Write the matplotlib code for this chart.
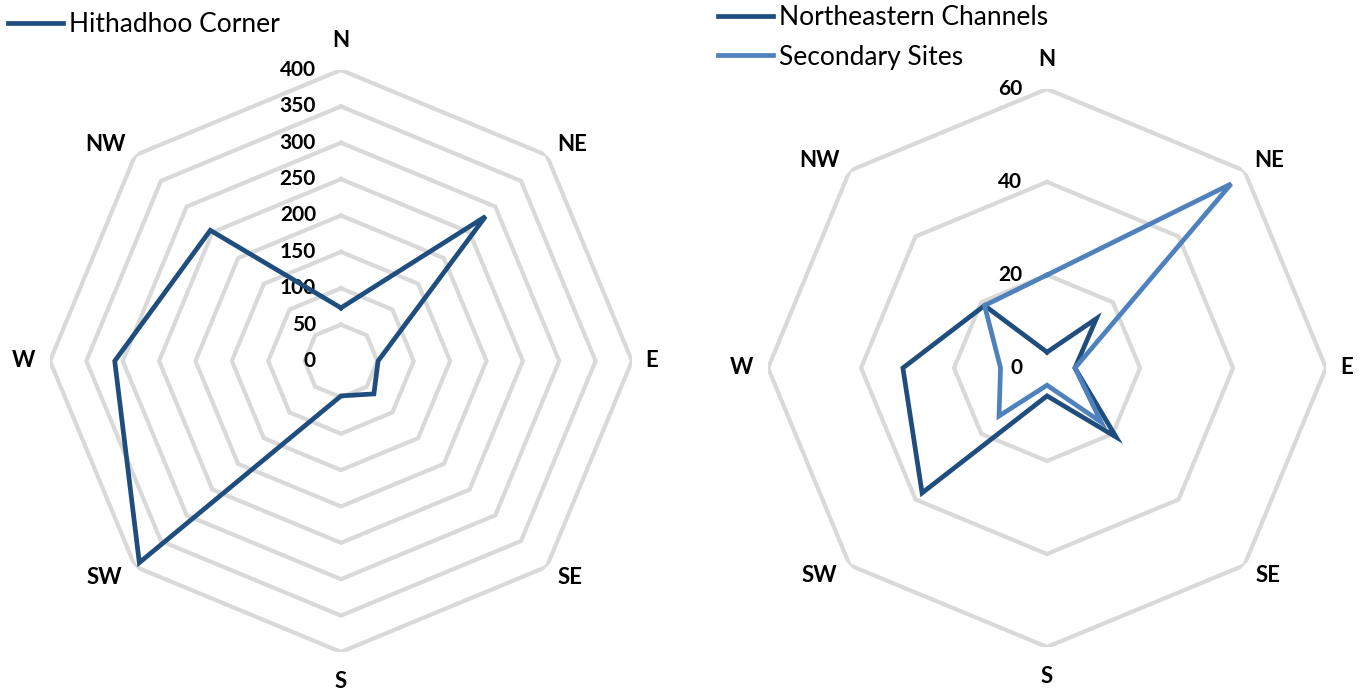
import numpy as np
import matplotlib.pyplot as plt

plt.rcParams['font.family'] = ['Lato', 'DejaVu Sans']

directions = ['N', 'NE', 'E', 'SE', 'S', 'SW', 'W', 'NW']

# left chart
hithadhoo = [73, 281, 51, 64, 48, 392, 311, 254]
left_ticks = [0, 50, 100, 150, 200, 250, 300, 350, 400]

# right chart
northeastern = [3.4, 15, 6, 21, 6, 38, 31, 19]
secondary = [20, 56, 6, 16.5, 3.7, 14.6, 10, 19]
right_ticks = [0, 20, 40, 60]

dark = '#1f4e7e'
light = '#4f81bd'
grid_col = '#d9d9d9'

# label offsets (points) from the outer vertex, Excel-like placement
label_off = {'N': (0, 21), 'NE': (18, 7.5), 'E': (14.5, 0), 'SE': (17, -7.5),
             'S': (0, -21), 'SW': (-22, -7.5), 'W': (-19, 0), 'NW': (-21.5, 7.5)}

fig = plt.figure(figsize=(13.62, 6.93), dpi=100)

angles = np.arange(len(directions)) * 2 * np.pi / len(directions)
closed = np.append(angles, angles[0])


def radar(ax, ticks, series):
    rmax = ticks[-1]
    ax.set_theta_zero_location('N')
    ax.set_theta_direction(-1)
    ax.set_ylim(0, rmax)
    ax.grid(False)
    ax.spines['polar'].set_visible(False)
    ax.set_xticks([])
    ax.set_yticks([])
    for t in ticks[1:]:
        ax.plot(closed, [t] * len(closed), color=grid_col, lw=3.0, zorder=1,
                solid_joinstyle='miter')
    for t in ticks:
        ax.annotate(str(t), xy=(0, t), xytext=(-18, 0), textcoords='offset points',
                    ha='right', va='center', fontsize=15, fontweight='bold')
    for ang, d in zip(angles, directions):
        ax.annotate(d, xy=(ang, rmax), xytext=label_off[d], textcoords='offset points',
                    ha='center', va='center', fontsize=16, fontweight='bold')
    handles = []
    for vals, col, name in series:
        h, = ax.plot(closed, np.append(vals, vals[0]), color=col, lw=3.4,
                     zorder=3, label=name, solid_joinstyle='miter')
        handles.append(h)
    return handles


ax1 = fig.add_axes([0.0367, 0.0592, 0.4273, 0.8398], projection='polar')
h1 = radar(ax1, left_ticks, [(hithadhoo, dark, 'Hithadhoo Corner')])

ax2 = fig.add_axes([0.5639, 0.0664, 0.4097, 0.8052], projection='polar')
h2 = radar(ax2, right_ticks, [(northeastern, dark, 'Northeastern Channels'),
                              (secondary, light, 'Secondary Sites')])

fig.legend(handles=h1, loc='upper left', bbox_to_anchor=(8 / 1362, 1 - 12 / 693),
           frameon=False, fontsize=19, handlelength=2.1, handletextpad=0.2,
           borderaxespad=0, borderpad=0)
fig.legend(handles=h2, loc='upper left', bbox_to_anchor=(718 / 1362, 1 - 5 / 693),
           frameon=False, fontsize=19, handlelength=2.1, handletextpad=0.2,
           borderaxespad=0, borderpad=0, labelspacing=0.55)

fig.savefig('out.png', dpi=100)
